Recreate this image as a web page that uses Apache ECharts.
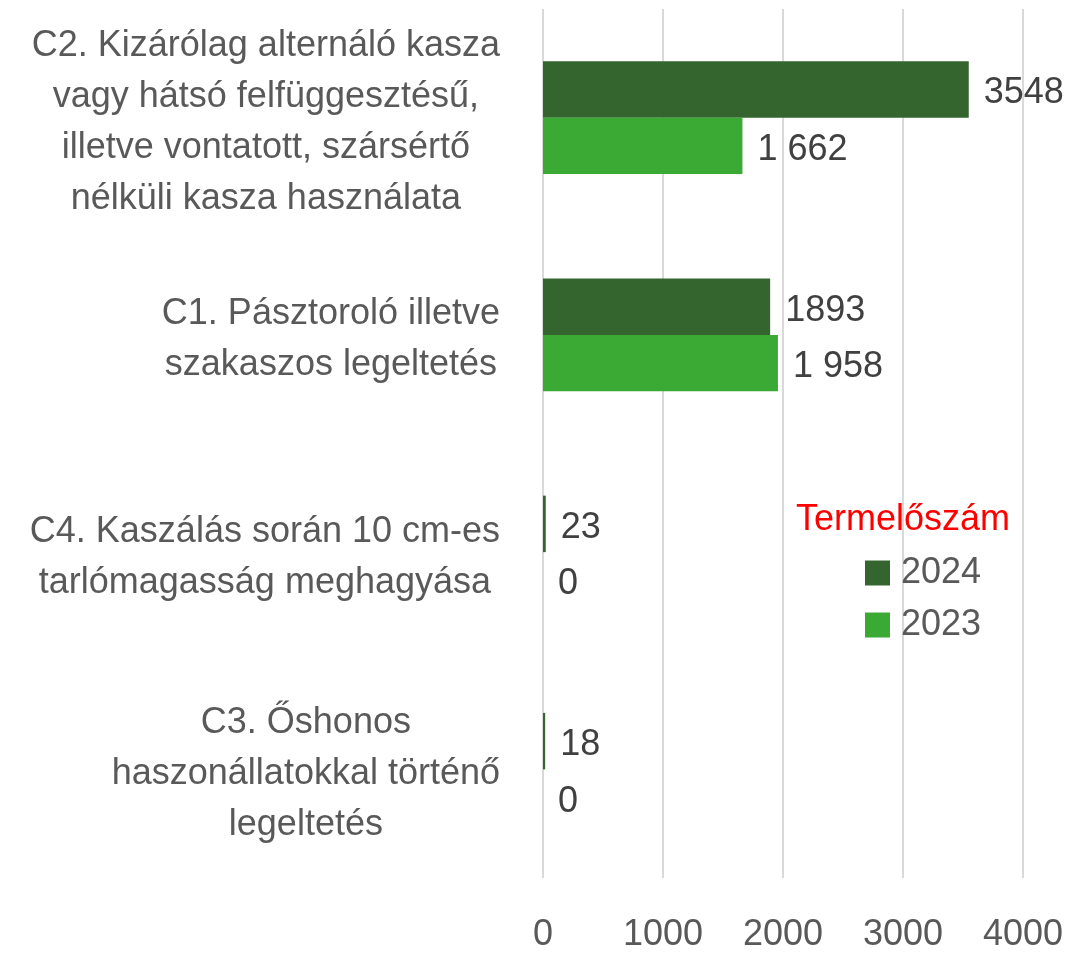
<!DOCTYPE html>
<html>
<head>
<meta charset="utf-8">
<script src="https://cdn.jsdelivr.net/npm/echarts@6/dist/echarts.min.js"></script>
<style>
  html, body { margin: 0; padding: 0; background: #fff; }
  #chart { width: 1074px; height: 953px; }
</style>
</head>
<body>
<div id="chart"></div>
<script>
// kategóriák (felülről lefelé)
var categories = [
    'C2. Kizárólag alternáló kasza\nvagy hátsó felfüggesztésű,\nilletve vontatott, szársértő\nnélküli kasza használata',
    'C1. Pásztoroló illetve\nszakaszos legeltetés',
    'C4. Kaszálás során 10 cm-es\ntarlómagasság meghagyása',
    'C3. Őshonos\nhaszonállatokkal történő\nlegeltetés'
];
var seriesNames = ['2024', '2023'];
var values2024 = [3548, 1893, 23, 18];
var values2023 = [1662, 1958, 0, 0];
var xTicks = [0, 1000, 2000, 3000, 4000];

var fontFam = '"Liberation Sans", Arial, sans-serif';
var fs = 36;

// 2023 számok szóközzel tagolva
function spaced(v) {
    return String(v).replace(/\B(?=(\d{3})+(?!\d))/g, ' ');
}

var option = {
    animation: false,
    color: ['#35652e', '#3baa35'],
    textStyle: { fontFamily: fontFam },
    title: {
        text: 'Termelőszám',
        left: 796,
        top: 502,
        padding: 0,
        textStyle: {
            color: '#ff0000',
            fontSize: fs,
            fontWeight: 'normal',
            fontFamily: fontFam
        }
    },
    legend: {
        orient: 'vertical',
        left: 865,
        top: 555,
        padding: 0,
        itemWidth: 25,
        itemHeight: 25,
        itemGap: 16,
        icon: 'rect',
        data: seriesNames,
        textStyle: {
            color: '#595959',
            fontSize: fs,
            fontFamily: fontFam,
            padding: [0, 0, 0, 6]
        }
    },
    grid: {
        left: 543,
        right: 51,
        top: 9,
        bottom: 73,
        containLabel: false
    },
    xAxis: {
        type: 'value',
        min: xTicks[0],
        max: xTicks[xTicks.length - 1],
        interval: 1000,
        axisLine: { show: false },
        axisTick: { show: false },
        axisLabel: {
            color: '#595959',
            fontSize: fs,
            margin: 39,
            fontFamily: fontFam,
            formatter: function (v) { return String(v); }
        },
        splitLine: {
            show: true,
            lineStyle: {
                color: '#d9d9d9',
                width: 2
            }
        }
    },
    yAxis: {
        type: 'category',
        inverse: true,
        data: categories,
        axisLine: { show: false },
        axisTick: { show: false },
        axisLabel: {
            margin: 43,
            align: 'right',
            padding: [10, 0, 0, 0],
            formatter: function (v) {
                return v.split('\n').map(function (l) { return '{c|' + l + '}'; }).join('\n');
            },
            rich: {
                c: {
                    align: 'center',
                    color: '#595959',
                    fontSize: fs,
                    lineHeight: 51,
                    fontFamily: fontFam
                }
            }
        }
    },
    series: [
        {
            name: seriesNames[0],
            type: 'bar',
            data: values2024,
            barGap: '0%',
            barCategoryGap: '48%',
            label: {
                show: true,
                position: 'right',
                distance: 15,
                offset: [0, 4],
                color: '#404040',
                fontSize: fs,
                fontFamily: fontFam
            }
        },
        {
            name: seriesNames[1],
            type: 'bar',
            data: values2023,
            barGap: '0%',
            barCategoryGap: '48%',
            label: {
                show: true,
                position: 'right',
                distance: 15,
                offset: [0, 4],
                color: '#404040',
                fontSize: fs,
                fontFamily: fontFam,
                formatter: function (p) { return spaced(p.value); }
            }
        }
    ]
};

var myChart = echarts.init(document.getElementById('chart'));
myChart.setOption(option);
</script>
</body>
</html>
